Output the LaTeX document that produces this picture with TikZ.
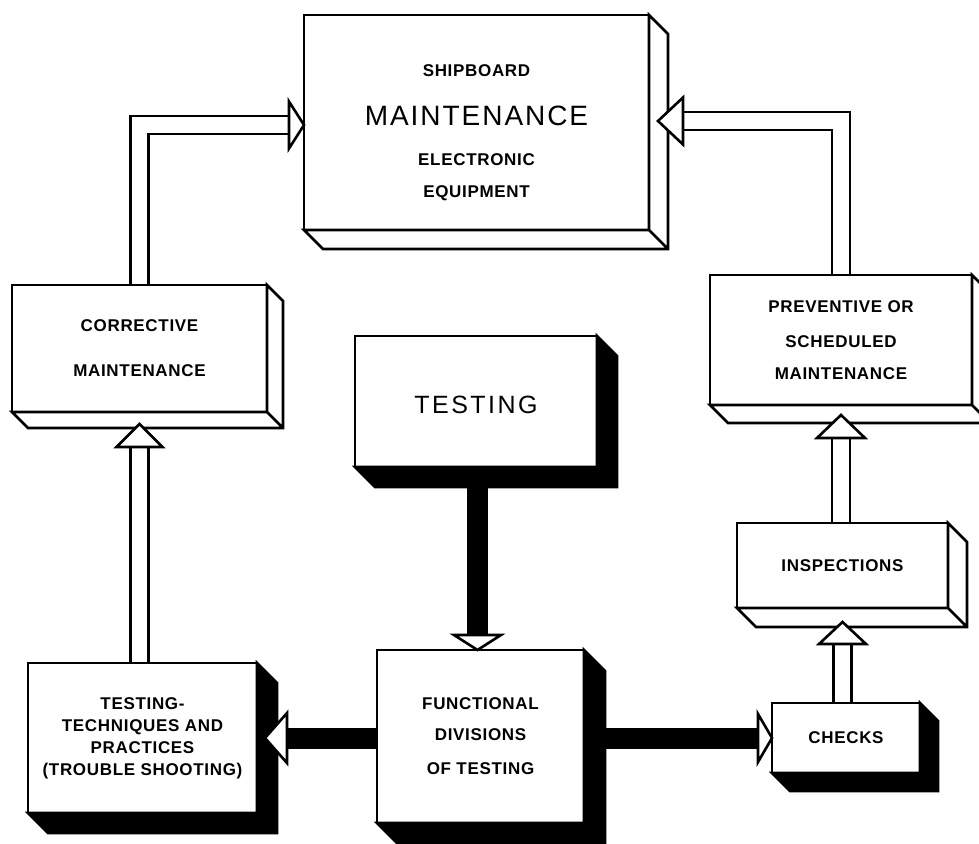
\documentclass[tikz,border=0pt]{standalone}
\usepackage{fontspec}
\setmainfont{Liberation Sans}
\usetikzlibrary{calc,backgrounds}
\newfontfamily\lettering[LetterSpace=4]{Liberation Sans}
\newfontfamily\bigletter[LetterSpace=7]{Liberation Sans}
\newfontfamily\testletter[LetterSpace=10]{Liberation Sans}
\newcommand\lblfont{\lettering\bfseries\fontsize{17}{22}\selectfont}
\newcommand\bigfont{\bigletter\mdseries\fontsize{28}{32}\selectfont}
\tikzset{
  openbox/.style={
    draw, line width=2.6pt, fill=white, outer sep=0pt, inner sep=0pt,
    align=center, font=\lblfont, anchor=north west
  },
  openside/.style={draw, line width=2.6pt, fill=white, line join=miter},
  solidside/.style={draw, line width=2.6pt, fill=black, line join=miter},
  hollow/.style={draw, line width=2.6pt, double=white, double distance=15.5pt, line join=miter},
  heavy/.style={draw, line width=21pt},
  head/.style={draw, line width=2.6pt, fill=white, line join=miter}
}

\begin{document}
\begin{tikzpicture}[x=1pt,y=-1pt]
    \useasboundingbox (0,0) rectangle (979,843);
    % boxes
    \node[openbox,minimum width=345pt,minimum height=215pt] (main) at (304,15)
      {\rule{0pt}{32pt}SHIPBOARD\\[27pt]{\bigfont MAINTENANCE}\\[18pt]ELECTRONIC\\[10pt]EQUIPMENT};
    \node[openbox,minimum width=255pt,minimum height=127pt] (corr) at (12,285)
      {CORRECTIVE\\[23pt]MAINTENANCE};
    \node[openbox,minimum width=262pt,minimum height=130pt] (prev) at (710,275)
      {PREVENTIVE OR\\[13pt]SCHEDULED\\[10pt]MAINTENANCE};
    \node[openbox,minimum width=211pt,minimum height=85pt] (insp) at (737,523) {INSPECTIONS};
    \node[openbox,minimum width=242pt,minimum height=131pt,font=\testletter\fontsize{25}{30}\selectfont] (testing) at (355,336) {\rule{0pt}{24pt}TESTING};
    \node[openbox,minimum width=229pt,minimum height=150pt] (tech) at (28,663)
      {TESTING-\\TECHNIQUES AND\\PRACTICES\\(TROUBLE SHOOTING)};
    \node[openbox,minimum width=207pt,minimum height=173pt] (func) at (377,650)
      {FUNCTIONAL\\[9pt]DIVISIONS\\[12pt]OF TESTING};
    \node[openbox,minimum width=148pt,minimum height=70pt] (checks) at (772,703) {CHECKS};

    % depth faces
    \foreach \n/\d in {main/19,corr/16,prev/18,insp/19}
      \draw[openside] (\n.north east) -- ++(\d,\d) -- ($(\n.south east)+(\d,\d)$)
        -- ($(\n.south west)+(\d,\d)$) -- (\n.south west) -- (\n.south east) -- cycle
        (\n.south east) -- ++(\d,\d);
    \foreach \n/\d in {testing/20,tech/20,func/21,checks/18}
      \draw[solidside] (\n.north east) -- ++(\d,\d) -- ($(\n.south east)+(\d,\d)$)
        -- ($(\n.south west)+(\d,\d)$) -- (\n.south west) -- (\n.south east) -- cycle;

    % arrow tips
    \coordinate (inA) at ($(main.north west)+(0,110)$);
    \coordinate (inB) at ($(main.north east)+(9,106)$);
    \coordinate (inC) at ($(corr.south)+(0,12)$);
    \coordinate (inD) at ($(prev.south)+(0,10)$);
    \coordinate (inE) at ($(insp.south)+(0,14)$);
    \coordinate (inF) at ($(func.north)+(-3,0)$);
    \coordinate (inG) at ($(tech.east)+(8,0)$);
    \coordinate (inH) at (checks.west);

    % shafts
    \begin{pgfonlayer}{background}
      \draw[hollow] (corr.north) |- ($(inA)+(-15,0)$);
      \draw[hollow] (prev.north) |- ($(inB)+(25,0)$);
      \draw[hollow] (inC |- tech.north) -- ($(inC)+(0,23)$);
      \draw[hollow] (inD |- insp.north) -- ($(inD)+(0,23)$);
      \draw[hollow] (inE |- checks.north) -- ($(inE)+(0,22)$);
      \draw[heavy] (inF |- testing.south) -- ($(inF)+(0,-15)$);
      \draw[heavy] (inG -| func.west) -- ($(inG)+(22,0)$);
      \draw[heavy] (inH -| func.east) -- ($(inH)+(-14,0)$);
    \end{pgfonlayer}

    % heads
    \draw[head] (inA) -- ++(-15,-23.5) -- ++(0,47) -- cycle;
    \draw[head] (inB) -- ++(25,-23.5) -- ++(0,47) -- cycle;
    \draw[head] (inC) -- ++(-23,23) -- ++(46,0) -- cycle;
    \draw[head] (inD) -- ++(-24,23) -- ++(48,0) -- cycle;
    \draw[head] (inE) -- ++(-23.5,22) -- ++(47,0) -- cycle;
    \draw[head] (inF) -- ++(-23.5,-15) -- ++(47,0) -- cycle;
    \draw[head] (inG) -- ++(22,-25) -- ++(0,50) -- cycle;
    \draw[head] (inH) -- ++(-14,-24) -- ++(0,48) -- cycle;
\end{tikzpicture}
\end{document}
